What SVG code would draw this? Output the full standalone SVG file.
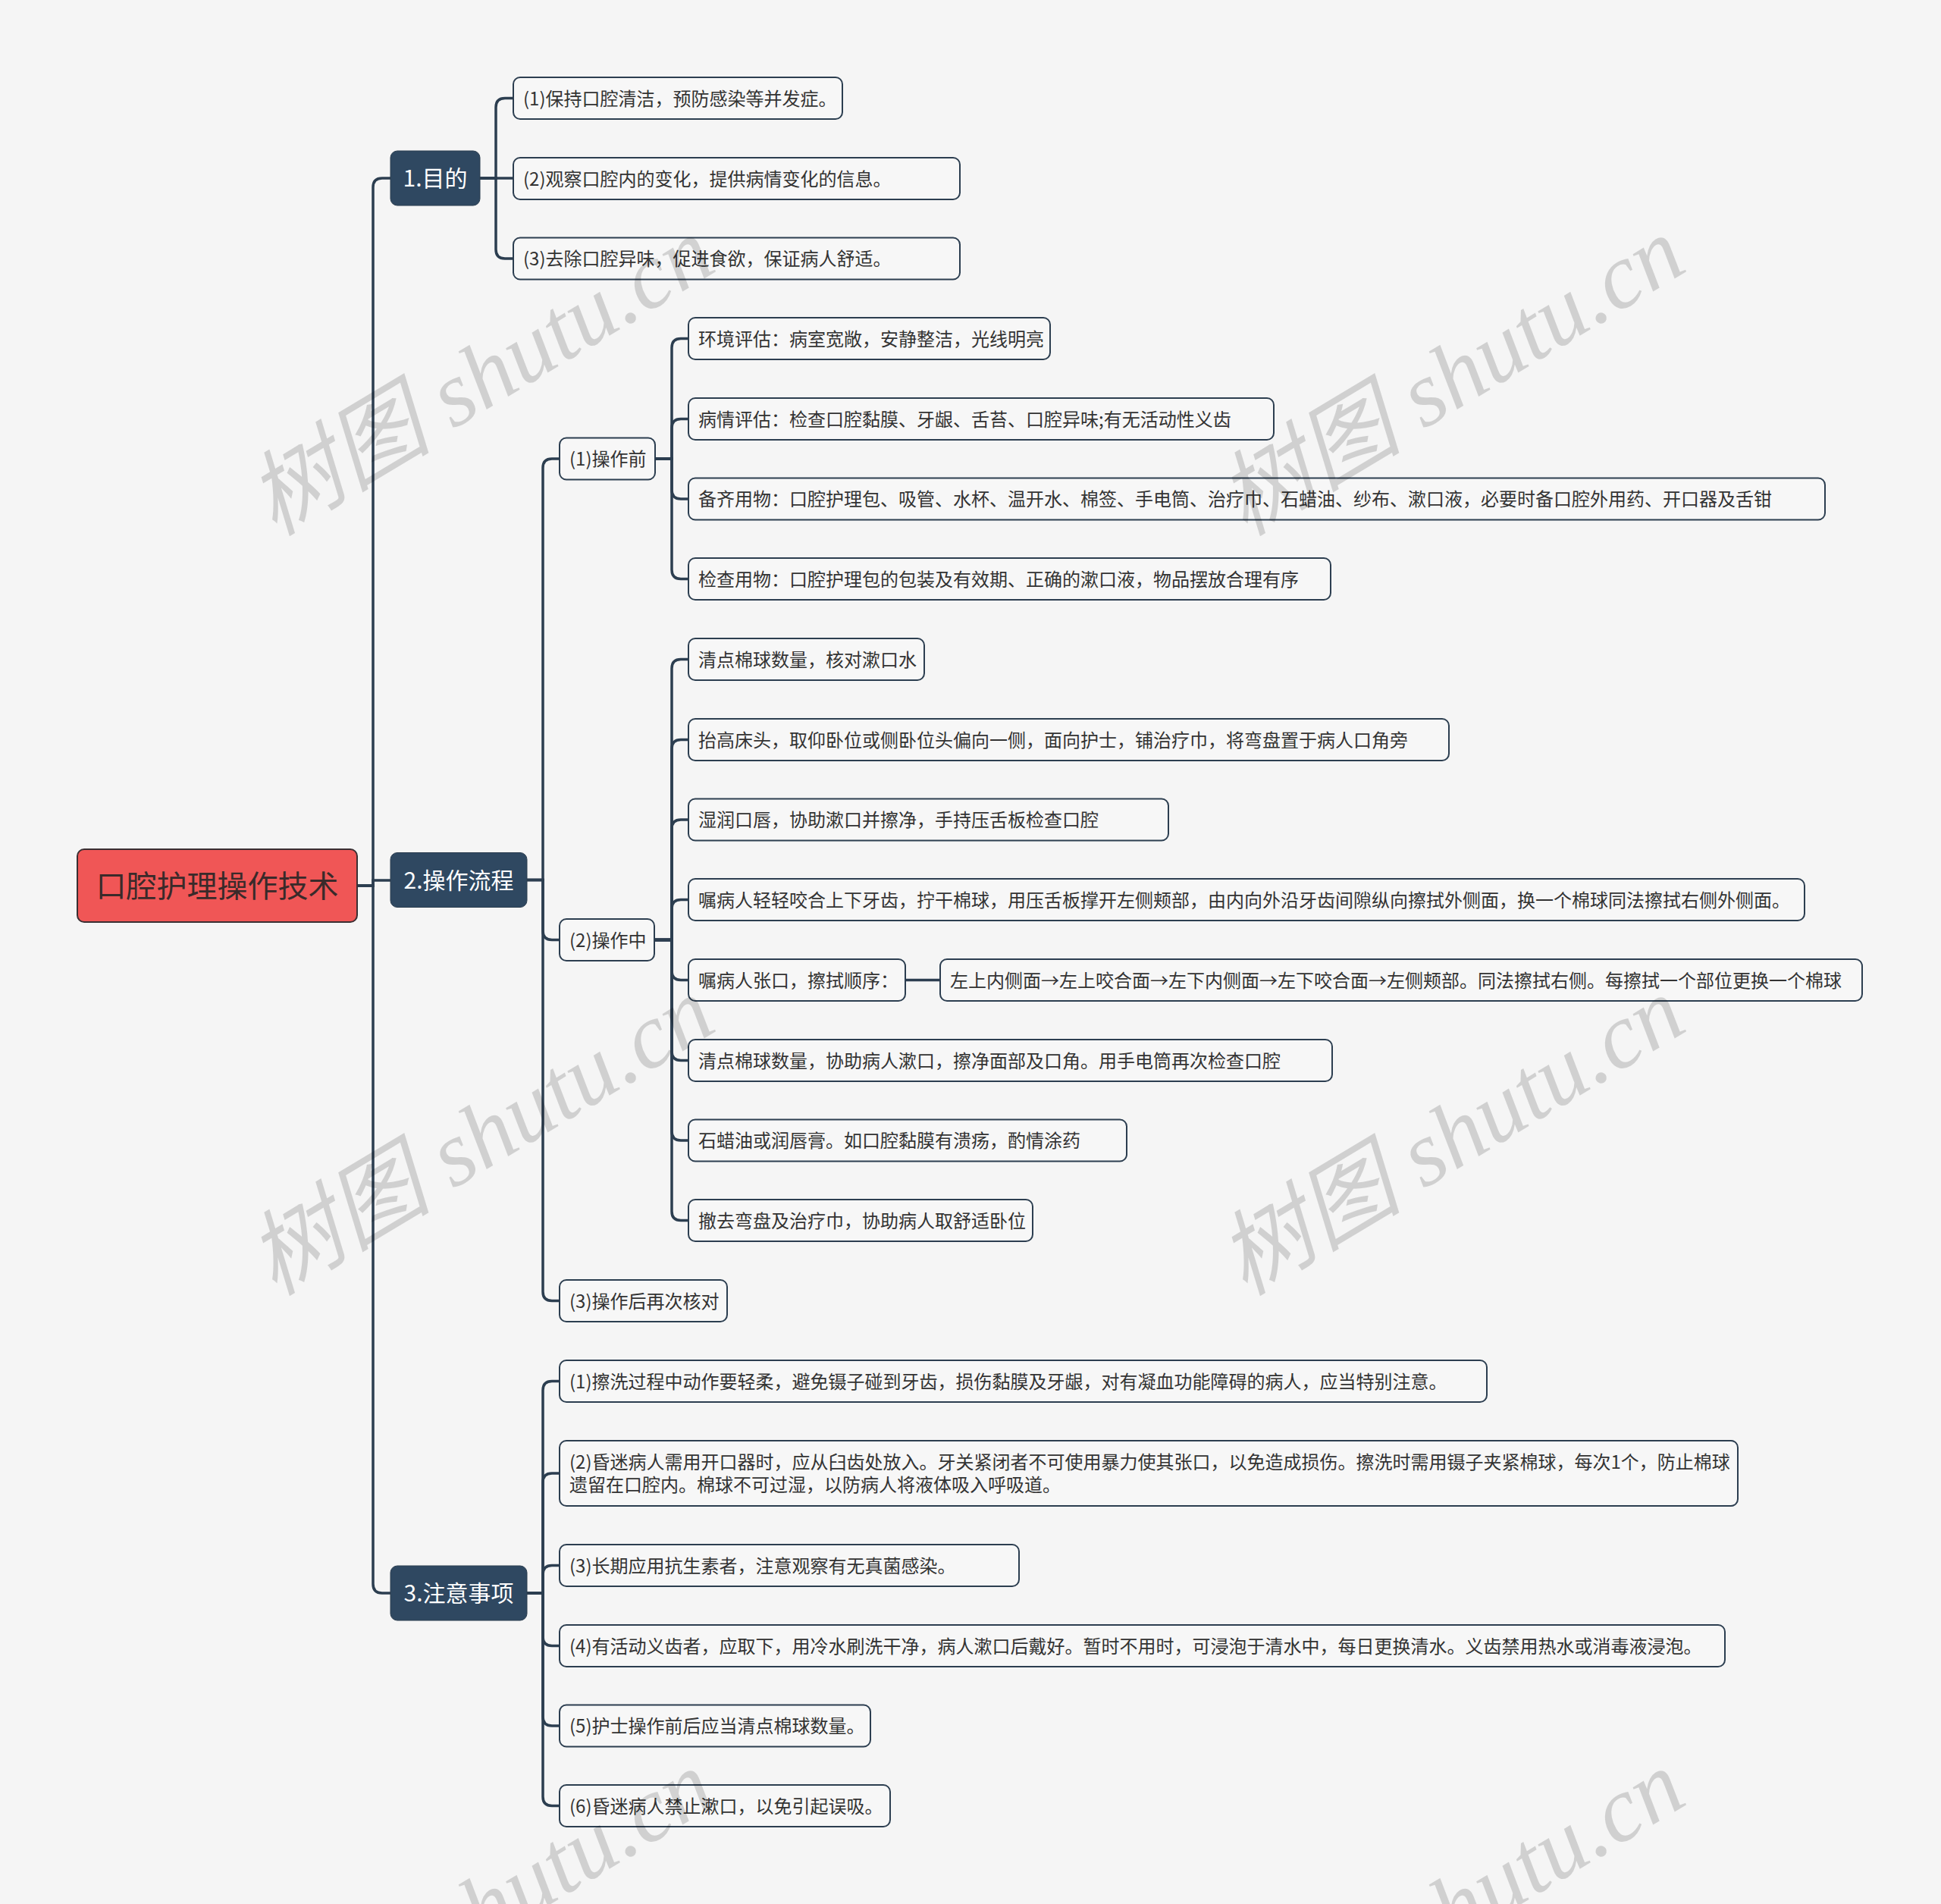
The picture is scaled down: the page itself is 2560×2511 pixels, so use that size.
<svg xmlns="http://www.w3.org/2000/svg" width="2560" height="2511" viewBox="0 0 2560 2511">
<style>
.bg{fill:#f5f5f5}
.leaf{fill:#f7f7f7;stroke:#2c3e50;stroke-width:2}
.lv1{fill:#2f4861;stroke:#2c3e50;stroke-width:1}
.root{fill:#f05656;stroke:#3a2f33;stroke-width:2}
.t{font-family:'Noto Sans CJK SC','Noto Sans',sans-serif;font-size:24px;fill:#333333}
.t1{font-family:'Noto Sans CJK SC','Noto Sans',sans-serif;font-size:30px;fill:#ffffff;text-anchor:middle}
.t0{font-family:'Noto Sans CJK SC','Noto Sans',sans-serif;font-size:40px;fill:#3a2a2a;text-anchor:middle}
.conn path{fill:none;stroke:#2c3e50;stroke-width:3.5}
.wm{font-family:'Liberation Serif','Noto Sans CJK SC',serif;font-style:italic;font-size:122px;fill:#000;fill-opacity:0.15}
</style>
<rect class="bg" x="0" y="0" width="2560" height="2511"/>

<g class="conn" id="connectors">
<path d="M471 1168 H492 V247 Q492 235 504 235 H515"/>
<path d="M471 1168 H492 V1161 H515"/>
<path d="M471 1168 H492 V2089 Q492 2101 504 2101 H515"/>
<path d="M633 235 H654 V141.5 Q654 129.5 666 129.5 H677"/>
<path d="M633 235 H677"/>
<path d="M633 235 H654 V329 Q654 341 666 341 H677"/>
<path d="M695 1160.5 H716 V617 Q716 605 728 605 H738"/>
<path d="M695 1160.5 H716 V1227.5 Q716 1239.5 728 1239.5 H738"/>
<path d="M695 1160.5 H716 V1703.5 Q716 1715.5 728 1715.5 H738"/>
<path d="M864 605 H886 V458.5 Q886 446.5 898 446.5 H908"/>
<path d="M864 605 H886 V564.5 Q886 552.5 898 552.5 H908"/>
<path d="M864 605 H886 V646 Q886 658 898 658 H908"/>
<path d="M864 605 H886 V751.5 Q886 763.5 898 763.5 H908"/>
<path d="M863 1239.5 H886 V881.5 Q886 869.5 898 869.5 H908"/>
<path d="M863 1239.5 H886 V987.5 Q886 975.5 898 975.5 H908"/>
<path d="M863 1239.5 H886 V1093 Q886 1081 898 1081 H908"/>
<path d="M863 1239.5 H886 V1198.5 Q886 1186.5 898 1186.5 H908"/>
<path d="M863 1239.5 H886 V1280.5 Q886 1292.5 898 1292.5 H908"/>
<path d="M863 1239.5 H886 V1386.5 Q886 1398.5 898 1398.5 H908"/>
<path d="M863 1239.5 H886 V1492 Q886 1504 898 1504 H908"/>
<path d="M863 1239.5 H886 V1597.5 Q886 1609.5 898 1609.5 H908"/>
<path d="M1194 1292.5 H1240"/>
<path d="M695 2101 H716 V1833.5 Q716 1821.5 728 1821.5 H738"/>
<path d="M695 2101 H716 V1955 Q716 1943 728 1943 H738"/>
<path d="M695 2101 H716 V2076.5 Q716 2064.5 728 2064.5 H738"/>
<path d="M695 2101 H716 V2158.5 Q716 2170.5 728 2170.5 H738"/>
<path d="M695 2101 H716 V2264 Q716 2276 728 2276 H738"/>
<path d="M695 2101 H716 V2369.5 Q716 2381.5 728 2381.5 H738"/>
</g>

<g id="root"><rect class="root" x="102" y="1120" width="369" height="96" rx="9"/><text class="t0" x="286.5" y="1183">口腔护理操作技术</text></g>

<g id="n1"><rect class="lv1" x="515" y="199" width="118" height="72" rx="9"/><text class="t1" x="574" y="246">1.目的</text></g>
<g id="n2"><rect class="lv1" x="515" y="1124.5" width="180" height="72" rx="9"/><text class="t1" x="605" y="1171.5">2.操作流程</text></g>
<g id="n3"><rect class="lv1" x="515" y="2065" width="180" height="72" rx="9"/><text class="t1" x="605" y="2112">3.注意事项</text></g>

<g id="n1-1"><rect class="leaf" x="677" y="102" width="434" height="55" rx="9"/><text class="t" x="690" y="138.5">(1)保持口腔清洁，预防感染等并发症。</text></g>
<g id="n1-2"><rect class="leaf" x="677" y="208" width="589" height="55" rx="9"/><text class="t" x="690" y="244.5">(2)观察口腔内的变化，提供病情变化的信息。</text></g>
<g id="n1-3"><rect class="leaf" x="677" y="313.5" width="589" height="55" rx="9"/><text class="t" x="690" y="350">(3)去除口腔异味，促进食欲，保证病人舒适。</text></g>

<g id="n2-1"><rect class="leaf" x="738" y="577.5" width="126" height="55" rx="9"/><text class="t" x="751" y="614">(1)操作前</text></g>
<g id="n2-1-1"><rect class="leaf" x="908" y="419" width="477" height="55" rx="9"/><text class="t" x="921" y="455.5">环境评估：病室宽敞，安静整洁，光线明亮</text></g>
<g id="n2-1-2"><rect class="leaf" x="908" y="525" width="772" height="55" rx="9"/><text class="t" x="921" y="561.5">病情评估：检查口腔黏膜、牙龈、舌苔、口腔异味;有无活动性义齿</text></g>
<g id="n2-1-3"><rect class="leaf" x="908" y="630.5" width="1499" height="55" rx="9"/><text class="t" x="921" y="667">备齐用物：口腔护理包、吸管、水杯、温开水、棉签、手电筒、治疗巾、石蜡油、纱布、漱口液，必要时备口腔外用药、开口器及舌钳</text></g>
<g id="n2-1-4"><rect class="leaf" x="908" y="736" width="847" height="55" rx="9"/><text class="t" x="921" y="772.5">检查用物：口腔护理包的包装及有效期、正确的漱口液，物品摆放合理有序</text></g>

<g id="n2-2"><rect class="leaf" x="738" y="1212" width="125" height="55" rx="9"/><text class="t" x="751" y="1248.5">(2)操作中</text></g>
<g id="n2-2-1"><rect class="leaf" x="908" y="842" width="311" height="55" rx="9"/><text class="t" x="921" y="878.5">清点棉球数量，核对漱口水</text></g>
<g id="n2-2-2"><rect class="leaf" x="908" y="948" width="1003" height="55" rx="9"/><text class="t" x="921" y="984.5">抬高床头，取仰卧位或侧卧位头偏向一侧，面向护士，铺治疗巾，将弯盘置于病人口角旁</text></g>
<g id="n2-2-3"><rect class="leaf" x="908" y="1053.5" width="633" height="55" rx="9"/><text class="t" x="921" y="1090">湿润口唇，协助漱口并擦净，手持压舌板检查口腔</text></g>
<g id="n2-2-4"><rect class="leaf" x="908" y="1159" width="1472" height="55" rx="9"/><text class="t" x="921" y="1195.5">嘱病人轻轻咬合上下牙齿，拧干棉球，用压舌板撑开左侧颊部，由内向外沿牙齿间隙纵向擦拭外侧面，换一个棉球同法擦拭右侧外侧面。</text></g>
<g id="n2-2-5"><rect class="leaf" x="908" y="1265" width="286" height="55" rx="9"/><text class="t" x="921" y="1301.5">嘱病人张口，擦拭顺序：</text></g>
<g id="n2-2-5-1"><rect class="leaf" x="1240" y="1265" width="1216" height="55" rx="9"/><text class="t" x="1253" y="1301.5">左上内侧面→左上咬合面→左下内侧面→左下咬合面→左侧颊部。同法擦拭右侧。每擦拭一个部位更换一个棉球</text></g>
<g id="n2-2-6"><rect class="leaf" x="908" y="1371" width="849" height="55" rx="9"/><text class="t" x="921" y="1407.5">清点棉球数量，协助病人漱口，擦净面部及口角。用手电筒再次检查口腔</text></g>
<g id="n2-2-7"><rect class="leaf" x="908" y="1476.5" width="578" height="55" rx="9"/><text class="t" x="921" y="1513">石蜡油或润唇膏。如口腔黏膜有溃疡，酌情涂药</text></g>
<g id="n2-2-8"><rect class="leaf" x="908" y="1582" width="454" height="55" rx="9"/><text class="t" x="921" y="1618.5">撤去弯盘及治疗巾，协助病人取舒适卧位</text></g>

<g id="n2-3"><rect class="leaf" x="738" y="1688" width="221" height="55" rx="9"/><text class="t" x="751" y="1724.5">(3)操作后再次核对</text></g>

<g id="n3-1"><rect class="leaf" x="738" y="1794" width="1223" height="55" rx="9"/><text class="t" x="751" y="1830.5">(1)擦洗过程中动作要轻柔，避免镊子碰到牙齿，损伤黏膜及牙龈，对有凝血功能障碍的病人，应当特别注意。</text></g>
<g id="n3-2"><rect class="leaf" x="738" y="1900" width="1554" height="86" rx="9"/><text class="t" x="751" y="1937">(2)昏迷病人需用开口器时，应从臼齿处放入。牙关紧闭者不可使用暴力使其张口，以免造成损伤。擦洗时需用镊子夹紧棉球，每次1个，防止棉球</text><text class="t" x="751" y="1967">遗留在口腔内。棉球不可过湿，以防病人将液体吸入呼吸道。</text></g>
<g id="n3-3"><rect class="leaf" x="738" y="2037" width="606" height="55" rx="9"/><text class="t" x="751" y="2073.5">(3)长期应用抗生素者，注意观察有无真菌感染。</text></g>
<g id="n3-4"><rect class="leaf" x="738" y="2143" width="1537" height="55" rx="9"/><text class="t" x="751" y="2179.5">(4)有活动义齿者，应取下，用冷水刷洗干净，病人漱口后戴好。暂时不用时，可浸泡于清水中，每日更换清水。义齿禁用热水或消毒液浸泡。</text></g>
<g id="n3-5"><rect class="leaf" x="738" y="2248.5" width="410" height="55" rx="9"/><text class="t" x="751" y="2285">(5)护士操作前后应当清点棉球数量。</text></g>
<g id="n3-6"><rect class="leaf" x="738" y="2354" width="436" height="55" rx="9"/><text class="t" x="751" y="2390.5">(6)昏迷病人禁止漱口，以免引起误吸。</text></g>

<g id="watermark">
<text class="wm" transform="translate(362,708) rotate(-31)">树图 shutu.cn</text>
<text class="wm" transform="translate(1642,708) rotate(-31)">树图 shutu.cn</text>
<text class="wm" transform="translate(362,1710) rotate(-31)">树图 shutu.cn</text>
<text class="wm" transform="translate(1642,1710) rotate(-31)">树图 shutu.cn</text>
<text class="wm" transform="translate(362,2730) rotate(-31)">树图 shutu.cn</text>
<text class="wm" transform="translate(1642,2730) rotate(-31)">树图 shutu.cn</text>
</g>
</svg>
